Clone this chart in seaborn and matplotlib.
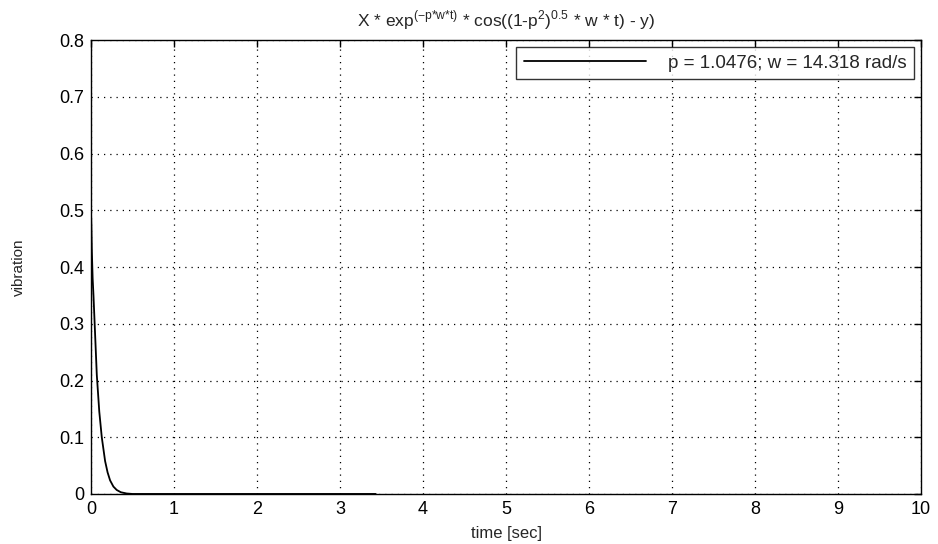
import numpy as np
import pandas as pd
import matplotlib
matplotlib.use("Agg")
import matplotlib.pyplot as plt
import seaborn as sns

# values
time_sec = [0.0, 0.005, 0.01, 0.02, 0.03, 0.05, 0.07, 0.10, 0.13, 0.17, 0.20,
            0.23, 0.27, 0.31, 0.36, 0.43, 0.50, 1.0, 2.0, 3.0, 3.43]
vibration = [0.50, 0.47, 0.43, 0.38, 0.35, 0.28, 0.21, 0.145, 0.10, 0.058, 0.038,
             0.024, 0.013, 0.007, 0.003, 0.0008, 0.0, 0.0, 0.0, 0.0, 0.0]
legend_label = "p = 1.0476; w = 14.318 rad/s"

df = pd.DataFrame({"time": time_sec, "vibration": vibration})

sns.set_style("white")
plt.rcParams["font.family"] = ["Liberation Sans", "DejaVu Sans"]
plt.rcParams["mathtext.fontset"] = "custom"
plt.rcParams["mathtext.rm"] = "Liberation Sans"

fig = plt.figure(figsize=(9.38, 5.44), dpi=100)
ax = fig.add_axes([0.097, 0.092, 0.885, 0.834])

sns.lineplot(data=df, x="time", y="vibration", ax=ax, color="black",
             linewidth=1.3, label=legend_label)

ax.set_xlim(0, 10)
ax.set_ylim(0, 0.8)
ax.set_xticks(np.arange(0, 11, 1))
ax.set_yticks(np.arange(0, 0.81, 0.1))
ax.set_yticklabels(["0", "0.1", "0.2", "0.3", "0.4", "0.5", "0.6", "0.7", "0.8"])
ax.grid(True, color="black", linestyle=(0, (1, 4)), linewidth=0.9)
ax.tick_params(direction="in", length=5, width=1, top=True, right=True,
               labelsize=13, colors="black", pad=5)
for s in ax.spines.values():
    s.set_color("black")
    s.set_linewidth(1)

ax.set_xlabel("time [sec]", fontsize=12, labelpad=6)
ax.set_ylabel("vibration", fontsize=11, labelpad=24)
ax.set_title(r"X * exp$^{\mathregular{({-}p{*}w{*}t)}}$ * cos((1-p$^{\mathregular{2}}$)$^{\mathregular{0.5}}$ * w * t) - y)",
             fontsize=12.5, pad=10)

leg = ax.legend(loc="upper right", fontsize=13.5, handlelength=6.5, frameon=True,
                fancybox=False, edgecolor="black", borderpad=0.4,
                handletextpad=1.2, borderaxespad=0,
                bbox_to_anchor=(0.9916, 0.985))
leg.get_frame().set_linewidth(1)

fig.savefig("out.png", dpi=100)
